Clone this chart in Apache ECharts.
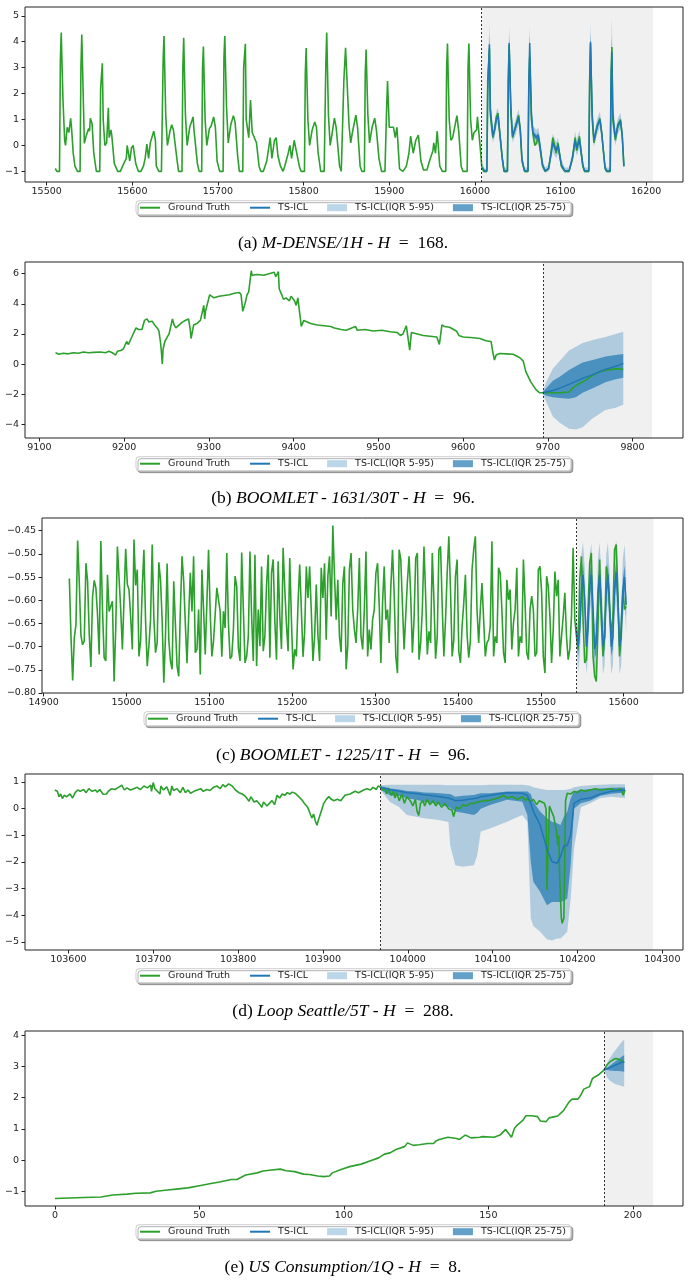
<!DOCTYPE html>
<html>
<head>
<meta charset="utf-8">
<title>TS-ICL forecasts</title>
<script src="https://cdn.jsdelivr.net/npm/echarts@6.0.0/dist/echarts.min.js"></script>
<style>
  html, body { margin: 0; padding: 0; background: #fff; }
  #chart { width: 690px; height: 1283px; }
</style>
</head>
<body>
<div id="chart"></div>
<script>
// forecast rows everywhere: [x, median, q05, q95, q25, q75]

// (a) M-DENSE/1H
const aTruth = [
  [15510,-0.89],[15512,-1.0],[15514,-0.97],[15515,-1.0],[15516,3.3],[15517,4.36],[15519,1.8],[15521,0.2],[15522,0.0],[15524,0.7],
  [15526,0.5],[15528,1.05],[15529,0.7],[15531,-0.3],[15533,-0.8],[15536,-1.0],[15539,-1.0],[15540,3.0],[15541,4.28],[15543,1.5],
  [15544,0.08],[15546,0.35],[15547,0.3],[15549,0.65],[15550,0.55],[15551,1.05],[15553,0.85],[15555,-0.3],[15558,-1.0],[15562,-1.0],
  [15563,2.2],[15565,3.17],[15566,1.0],[15568,0.0],[15570,0.1],[15572,1.45],[15573,0.3],[15575,0.6],[15576,0.4],[15579,-0.7],
  [15583,-1.0],[15586,-1.0],[15590,-0.7],[15593,-0.5],[15594,0.0],[15597,-0.6],[15599,-0.1],[15601,0.0],[15604,-0.7],[15607,-1.0],
  [15610,-1.0],[15613,-0.8],[15615,-0.5],[15617,0.05],[15619,-0.5],[15621,0.1],[15625,0.55],[15627,0.2],[15628,-0.8],[15631,-1.0],
  [15634,-1.0],[15636,3.3],[15637,4.22],[15639,1.2],[15641,0.0],[15644,0.55],[15646,0.8],[15648,0.6],[15652,-0.5],[15654,-1.0],
  [15658,-1.0],[15659,3.0],[15660,4.15],[15662,1.2],[15664,0.0],[15667,0.7],[15671,1.1],[15672,0.6],[15676,-0.7],[15678,-1.0],
  [15681,-1.0],[15682,3.0],[15683,3.82],[15685,1.0],[15687,0.0],[15690,0.65],[15692,0.75],[15695,1.1],[15697,0.7],[15699,-0.6],
  [15702,-1.0],[15706,-1.0],[15707,3.4],[15708,4.22],[15710,1.5],[15712,0.1],[15715,0.8],[15718,1.15],[15720,0.9],[15723,-0.4],
  [15725,-1.0],[15729,-1.0],[15730,3.0],[15732,3.92],[15733,1.0],[15736,0.3],[15738,1.75],[15740,0.5],[15742,0.45],[15745,0.1],
  [15748,-0.8],[15750,-1.0],[15753,-1.0],[15757,-0.6],[15761,0.3],[15763,-0.5],[15766,0.2],[15768,0.3],[15770,-0.4],[15773,-0.8],
  [15776,-1.0],[15778,-0.8],[15782,-0.3],[15784,0.0],[15786,-0.5],[15789,0.2],[15791,0.15],[15795,-0.8],[15797,-1.0],[15801,-1.0],
  [15802,2.8],[15803,3.76],[15805,1.0],[15807,0.0],[15810,0.6],[15813,0.9],[15815,0.7],[15817,-0.3],[15820,-1.0],[15824,-1.0],
  [15826,3.2],[15827,4.36],[15829,1.2],[15831,0.0],[15833,0.4],[15836,1.05],[15838,0.7],[15842,-0.8],[15844,-1.0],[15846,-1.0],
  [15847,2.5],[15849,3.77],[15851,3.7],[15853,0.8],[15855,0.1],[15857,0.5],[15861,1.17],[15863,0.7],[15866,-0.8],[15868,-1.0],
  [15871,-1.0],[15872,2.8],[15873,3.7],[15875,1.2],[15877,0.1],[15880,0.7],[15883,1.05],[15885,0.6],[15888,-0.5],[15891,-1.0],
  [15895,-1.0],[15897,1.5],[15898,2.48],[15900,0.7],[15902,0.75],[15905,0.7],[15907,0.3],[15909,0.7],[15912,-0.9],[15916,-1.0],
  [15920,-0.8],[15923,-0.3],[15925,0.36],[15928,-0.3],[15931,0.2],[15934,0.4],[15937,-0.6],[15940,-0.95],[15944,-0.95],[15947,-0.6],
  [15951,-0.2],[15952,0.1],[15954,-0.3],[15956,0.55],[15959,-0.8],[15962,-1.0],[15966,-1.0],[15967,3.0],[15968,3.93],[15970,1.0],
  [15972,0.2],[15974,0.3],[15977,0.8],[15979,1.15],[15981,0.6],[15984,-0.8],[15986,-1.0],[15991,-1.0],[15992,3.0],[15993,3.93],
  [15995,1.0],[15997,0.2],[15999,0.5],[16002,0.6],[16003,1.1],[16006,0.0],[16008,-0.8],[16010,-1.0],[16014,-1.0],[16015,2.5],
  [16017,3.74],[16018,1.2],[16021,0.3],[16023,0.6],[16025,1.1],[16027,1.25],[16029,0.5],[16032,-0.5],[16034,-1.0],[16038,-1.0],
  [16039,2.5],[16040,3.87],[16042,1.3],[16044,0.3],[16046,0.35],[16048,0.8],[16051,1.17],[16053,0.6],[16055,-0.6],[16058,-1.0],
  [16062,-1.0],[16063,2.5],[16064,3.42],[16066,1.0],[16068,0.4],[16070,0.0],[16072,0.1],[16074,0.35],[16076,-0.1],[16079,-0.8],
  [16082,-1.0],[16086,-0.9],[16088,-0.5],[16091,0.3],[16095,-0.3],[16097,0.1],[16101,-0.8],[16105,-1.0],[16110,-1.0],[16114,-0.5],
  [16117,0.3],[16119,-0.2],[16122,0.35],[16126,-0.8],[16128,-1.0],[16133,-1.0],[16134,2.5],[16135,3.93],[16137,1.0],[16139,0.1],
  [16143,0.8],[16146,1.04],[16148,0.5],[16152,-0.9],[16154,-1.0],[16158,-1.0],[16159,2.8],[16160,3.8],[16161,1.0],[16164,0.2],
  [16167,0.8],[16170,1.0],[16172,0.4],[16174,-0.8]
];
const aForecast = [
  [16009,-0.85,-0.95,-0.7,-0.9,-0.8],[16011,-0.98,-1.05,-0.9,-1.0,-0.95],[16014,-0.98,-1.05,-0.88,-1.0,-0.95],
  [16015,2.2,1.5,2.9,2.0,2.4],[16017,3.9,3.0,4.7,3.6,4.2],[16018,1.4,0.8,2.2,1.1,1.7],[16021,0.35,0.1,0.6,0.25,0.45],
  [16023,0.6,0.3,0.9,0.5,0.7],[16025,1.0,0.7,1.3,0.9,1.1],[16027,1.15,0.85,1.45,1.05,1.25],[16029,0.5,0.2,0.8,0.4,0.6],
  [16032,-0.5,-0.7,-0.3,-0.55,-0.45],[16034,-0.98,-1.05,-0.85,-1.0,-0.95],[16038,-0.98,-1.05,-0.85,-1.0,-0.95],
  [16039,2.4,1.6,3.2,2.1,2.7],[16040,3.95,3.0,4.6,3.6,4.2],[16042,1.4,0.8,2.1,1.1,1.7],[16044,0.35,0.1,0.6,0.25,0.45],
  [16048,0.75,0.45,1.05,0.65,0.85],[16051,1.1,0.8,1.4,1.0,1.2],[16053,0.6,0.3,0.9,0.5,0.7],[16055,-0.55,-0.75,-0.35,-0.6,-0.5],
  [16058,-0.98,-1.05,-0.85,-1.0,-0.95],[16062,-0.98,-1.05,-0.85,-1.0,-0.95],[16063,2.4,1.6,3.2,2.1,2.7],
  [16064,3.95,3.0,4.6,3.6,4.2],[16066,1.2,0.7,1.9,1.0,1.5],[16068,0.45,0.15,0.75,0.35,0.55],[16072,0.3,0.0,0.6,0.2,0.4],
  [16074,0.4,0.1,0.7,0.3,0.5],[16076,0.0,-0.3,0.3,-0.1,0.1],[16079,-0.75,-0.9,-0.55,-0.8,-0.7],[16082,-0.98,-1.05,-0.85,-1.0,-0.95],
  [16086,-0.9,-1.0,-0.75,-0.95,-0.85],[16091,0.1,-0.25,0.45,0.0,0.2],[16095,-0.2,-0.5,0.1,-0.3,-0.1],[16097,0.0,-0.3,0.3,-0.1,0.1],
  [16101,-0.75,-0.9,-0.55,-0.8,-0.7],[16105,-0.98,-1.05,-0.85,-1.0,-0.95],[16110,-0.98,-1.05,-0.85,-1.0,-0.95],
  [16114,-0.45,-0.65,-0.25,-0.5,-0.4],[16117,0.2,-0.15,0.55,0.1,0.3],[16119,-0.1,-0.4,0.2,-0.2,0.0],[16122,0.25,-0.1,0.6,0.15,0.35],
  [16126,-0.75,-0.9,-0.55,-0.8,-0.7],[16128,-0.98,-1.05,-0.85,-1.0,-0.95],[16133,-0.98,-1.05,-0.85,-1.0,-0.95],
  [16134,2.4,1.6,3.2,2.1,2.7],[16135,4.0,3.1,4.7,3.7,4.3],[16137,1.2,0.7,1.9,1.0,1.5],[16139,0.2,-0.05,0.45,0.1,0.3],
  [16143,0.75,0.45,1.05,0.65,0.85],[16146,1.0,0.7,1.3,0.9,1.1],[16148,0.5,0.2,0.8,0.4,0.6],[16152,-0.85,-1.0,-0.7,-0.9,-0.8],
  [16154,-0.98,-1.05,-0.85,-1.0,-0.95],[16158,-0.98,-1.05,-0.85,-1.0,-0.95],[16159,2.4,1.6,3.2,2.1,2.7],
  [16160,3.6,2.8,4.96,3.3,4.2],[16161,1.2,0.7,1.9,1.0,1.5],[16164,0.3,0.0,0.6,0.2,0.4],[16167,0.75,0.45,1.05,0.65,0.85],
  [16170,0.95,0.65,1.25,0.85,1.05],[16172,0.4,0.1,0.7,0.3,0.5],[16174,-0.8,-0.95,-0.6,-0.85,-0.75]
];
const aXTicks = [15500, 15600, 15700, 15800, 15900, 16000, 16100, 16200];
const aYTicks = [-1, 0, 1, 2, 3, 4, 5];

// (b) BOOMLET 1631/30T
const bTruth = [
  [9119,0.75],[9123,0.65],[9128,0.72],[9134,0.68],[9140,0.75],[9146,0.72],[9152,0.8],[9158,0.75],[9164,0.78],[9172,0.8],
  [9178,0.75],[9182,0.85],[9186,0.75],[9190,0.6],[9192,0.85],[9196,0.9],[9199,1.0],[9201,0.9],[9203,1.5],[9205,1.3],
  [9209,1.8],[9211,1.7],[9214,2.4],[9217,2.3],[9221,2.3],[9224,2.9],[9227,3.0],[9229,2.8],[9233,2.85],[9236,2.6],
  [9239,2.4],[9241,2.2],[9243,1.4],[9244,0.8],[9245,0.0],[9246,1.0],[9248,1.5],[9251,1.8],[9253,2.0],[9255,2.1],
  [9257,3.0],[9259,2.6],[9261,2.4],[9265,2.6],[9268,2.75],[9272,2.9],[9276,3.0],[9278,2.3],[9279,1.7],[9280,1.7],
  [9282,2.6],[9286,2.7],[9290,2.9],[9292,2.8],[9294,3.9],[9295,3.0],[9296,3.5],[9298,3.4],[9300,4.4],[9301,4.6],
  [9306,4.4],[9312,4.5],[9318,4.55],[9324,4.6],[9330,4.7],[9336,4.75],[9338,4.6],[9340,3.5],[9341,3.4],[9343,4.1],
  [9345,4.6],[9347,4.8],[9350,6.2],[9351,5.9],[9357,5.95],[9365,5.9],[9371,6.0],[9377,6.1],[9379,5.8],[9382,6.15],
  [9383,5.0],[9386,4.6],[9388,4.3],[9391,4.4],[9395,4.2],[9397,4.5],[9401,4.2],[9403,3.9],[9405,4.4],[9408,3.0],
  [9409,2.5],[9412,2.9],[9414,2.8],[9420,2.7],[9428,2.6],[9436,2.55],[9444,2.5],[9448,2.4],[9456,2.3],[9462,2.25],
  [9473,2.5],[9475,2.25],[9484,2.3],[9494,2.2],[9504,2.25],[9514,2.15],[9522,2.1],[9526,1.9],[9529,2.0],[9533,2.55],
  [9535,2.6],[9537,0.93],[9539,2.1],[9541,2.0],[9553,1.9],[9561,1.85],[9569,1.8],[9572,1.3],[9575,2.6],[9578,2.5],
  [9584,2.45],[9592,2.2],[9595,1.9],[9600,1.8],[9612,1.75],[9620,1.7],[9627,1.55],[9633,1.5],[9635,0.8],[9637,0.27],
  [9639,0.6],[9643,0.7],[9651,0.68],[9659,0.65],[9667,0.42],[9671,0.2],[9674,-0.5],[9680,-1.2],[9686,-1.7],[9690,-1.9],
  [9694,-1.9],[9706,-1.9],[9714,-1.9],[9725,-1.85],[9729,-1.6],[9737,-1.3],[9745,-1.05],[9753,-0.75],[9761,-0.5],[9769,-0.4],
  [9776,-0.35],[9784,-0.3],[9789,-0.36]
];
const bForecast = [
  [9694,-1.9,-2.0,-1.8,-1.95,-1.85],[9698,-1.85,-2.5,-1.2,-2.1,-1.6],[9706,-1.75,-3.5,-0.3,-2.2,-1.1],
  [9714,-1.6,-3.9,0.2,-2.25,-0.84],[9725,-1.35,-4.3,0.9,-2.3,-0.4],[9733,-1.15,-4.35,1.15,-2.2,-0.15],
  [9741,-0.95,-4.2,1.4,-1.9,0.1],[9753,-0.7,-3.6,1.6,-1.6,0.27],[9768,-0.35,-3.05,1.8,-1.2,0.5],
  [9780,-0.15,-2.9,2.0,-1.0,0.6],[9789,0.05,-2.7,2.15,-0.9,0.67]
];
const bXTicks = [9100, 9200, 9300, 9400, 9500, 9600, 9700, 9800];
const bYTicks = [-4, -2, 0, 2, 4, 6];

// (c) BOOMLET 1225/1T, sampled every 2 steps
const cTruthStart = 14931;
const cStep = 2;
const cTruth = [
  -0.553,-0.680,-0.773,-0.681,-0.652,-0.471,-0.561,-0.676,-0.696,-0.688,
  -0.520,-0.559,-0.672,-0.744,-0.593,-0.557,-0.573,-0.631,-0.717,-0.472,
  -0.620,-0.724,-0.731,-0.545,-0.624,-0.613,-0.602,-0.775,-0.660,-0.484,
  -0.552,-0.620,-0.706,-0.706,-0.489,-0.566,-0.577,-0.636,-0.706,-0.469,
  -0.568,-0.534,-0.721,-0.688,-0.573,-0.491,-0.645,-0.742,-0.699,-0.642,
  -0.480,-0.638,-0.713,-0.692,-0.518,-0.556,-0.642,-0.778,-0.678,-0.521,
  -0.685,-0.731,-0.749,-0.559,-0.652,-0.742,-0.764,-0.620,-0.505,-0.559,
  -0.652,-0.736,-0.635,-0.541,-0.624,-0.505,-0.713,-0.706,-0.620,-0.760,
  -0.534,-0.620,-0.717,-0.721,-0.491,-0.627,-0.721,-0.688,-0.688,-0.573,
  -0.576,-0.624,-0.722,-0.624,-0.660,-0.498,-0.649,-0.726,-0.721,-0.663,
  -0.548,-0.570,-0.703,-0.731,-0.497,-0.620,-0.735,-0.721,-0.678,-0.495,
  -0.635,-0.731,-0.502,-0.742,-0.620,-0.699,-0.527,-0.710,-0.678,-0.566,
  -0.502,-0.724,-0.541,-0.512,-0.645,-0.728,-0.516,-0.635,-0.705,-0.487,
  -0.576,-0.652,-0.710,-0.509,-0.642,-0.749,-0.706,-0.721,-0.606,-0.523,
  -0.620,-0.722,-0.667,-0.527,-0.595,-0.527,-0.624,-0.731,-0.678,-0.566,
  -0.674,-0.731,-0.530,-0.595,-0.520,-0.685,-0.548,-0.505,-0.635,-0.439,
  -0.548,-0.642,-0.556,-0.678,-0.712,-0.563,-0.527,-0.749,-0.699,-0.534,
  -0.498,-0.620,-0.663,-0.692,-0.620,-0.509,-0.678,-0.706,-0.620,-0.495,
  -0.721,-0.663,-0.706,-0.642,-0.620,-0.541,-0.520,-0.613,-0.735,-0.606,
  -0.527,-0.642,-0.620,-0.692,-0.570,-0.491,-0.584,-0.721,-0.757,-0.491,
  -0.512,-0.609,-0.706,-0.706,-0.559,-0.505,-0.591,-0.713,-0.642,-0.509,
  -0.498,-0.728,-0.692,-0.620,-0.484,-0.591,-0.717,-0.667,-0.692,-0.498,
  -0.599,-0.726,-0.678,-0.491,-0.484,-0.613,-0.721,-0.642,-0.541,-0.462,
  -0.577,-0.721,-0.685,-0.548,-0.512,-0.710,-0.735,-0.656,-0.606,-0.545,
  -0.674,-0.724,-0.688,-0.534,-0.491,-0.462,-0.620,-0.692,-0.620,-0.563,
  -0.563,-0.721,-0.692,-0.685,-0.656,-0.473,-0.721,-0.678,-0.692,-0.530,
  -0.541,-0.620,-0.713,-0.735,-0.556,-0.599,-0.577,-0.706,-0.649,-0.620,
  -0.530,-0.721,-0.678,-0.692,-0.512,-0.606,-0.713,-0.728,-0.620,-0.591,
  -0.620,-0.721,-0.713,-0.534,-0.527,-0.584,-0.721,-0.757,-0.548,-0.570,
  -0.635,-0.735,-0.663,-0.538,-0.591,-0.556,-0.721,-0.724,-0.635,-0.584,
  -0.678,-0.728,-0.706,-0.635,-0.487,-0.642,-0.678,-0.706,-0.556,-0.505,
  -0.642,-0.735,-0.728,-0.620,-0.520,-0.498,-0.721,-0.764,-0.775,-0.656,
  -0.512,-0.642,-0.721,-0.678,-0.527,-0.548,-0.620,-0.678,-0.635,-0.491,
  -0.480,-0.584,-0.721,-0.656,-0.577,-0.620,-0.613
];
const cForecastStart = 15543;
const cMedian = [-0.665,-0.70,-0.66,-0.58,-0.545,-0.60,-0.70,-0.66,-0.57,-0.545,-0.62,-0.705,-0.69,-0.58,-0.545,-0.61,-0.70,-0.68,-0.58,-0.545,-0.61,-0.70,-0.68,-0.575,-0.54,-0.60,-0.70,-0.68,-0.58,-0.55,-0.61];
const cQ05 = [-0.69,-0.755,-0.72,-0.64,-0.60,-0.67,-0.76,-0.72,-0.63,-0.60,-0.68,-0.765,-0.75,-0.64,-0.60,-0.67,-0.76,-0.74,-0.64,-0.60,-0.67,-0.76,-0.74,-0.63,-0.60,-0.66,-0.76,-0.74,-0.64,-0.61,-0.67];
const cQ95 = [-0.64,-0.66,-0.60,-0.50,-0.475,-0.53,-0.65,-0.60,-0.50,-0.478,-0.55,-0.655,-0.63,-0.51,-0.475,-0.54,-0.65,-0.62,-0.50,-0.475,-0.54,-0.65,-0.62,-0.50,-0.47,-0.53,-0.65,-0.62,-0.51,-0.48,-0.54];
const cQ25 = [-0.68,-0.72,-0.685,-0.605,-0.57,-0.625,-0.72,-0.685,-0.595,-0.57,-0.645,-0.725,-0.715,-0.605,-0.57,-0.635,-0.72,-0.705,-0.605,-0.57,-0.635,-0.72,-0.705,-0.60,-0.565,-0.625,-0.72,-0.705,-0.605,-0.575,-0.635];
const cQ75 = [-0.65,-0.68,-0.64,-0.555,-0.52,-0.575,-0.68,-0.635,-0.545,-0.52,-0.595,-0.685,-0.665,-0.555,-0.52,-0.585,-0.68,-0.655,-0.555,-0.52,-0.585,-0.68,-0.655,-0.55,-0.515,-0.575,-0.68,-0.655,-0.555,-0.525,-0.585];
const cXTicks = [14900, 15000, 15100, 15200, 15300, 15400, 15500, 15600];
const cYTicks = [-0.80, -0.75, -0.70, -0.65, -0.60, -0.55, -0.50, -0.45];

// (d) Loop Seattle/5T
const dTruth = [
  [103584,0.70],[103587,0.65],[103589,0.45],[103591,0.55],[103593,0.38],[103595,0.50],[103598,0.45],[103602,0.55],[103605,0.40],[103607,0.33],
  [103608,0.60],[103611,0.70],[103614,0.65],[103618,0.72],[103621,0.60],[103624,0.75],[103628,0.65],[103632,0.70],[103634,0.62],[103637,0.72],
  [103641,0.54],[103645,0.55],[103647,0.65],[103651,0.75],[103655,0.72],[103659,0.80],[103663,0.88],[103666,0.70],[103669,0.78],[103673,0.70],
  [103677,0.75],[103681,0.80],[103685,0.72],[103689,0.85],[103693,0.78],[103697,0.88],[103698,0.65],[103700,0.98],[103702,0.75],[103704,0.80],
  [103708,0.55],[103709,0.85],[103712,0.70],[103716,0.82],[103720,0.50],[103722,0.85],[103724,0.68],[103728,0.75],[103732,0.60],[103735,0.80],
  [103738,0.60],[103741,0.70],[103744,0.58],[103748,0.65],[103752,0.70],[103756,0.75],[103759,0.65],[103763,0.72],[103767,0.68],[103771,0.80],
  [103775,0.85],[103779,0.75],[103782,0.90],[103785,0.82],[103789,0.93],[103793,0.85],[103797,0.70],[103801,0.60],[103805,0.55],[103809,0.45],
  [103813,0.28],[103815,0.45],[103819,0.25],[103822,0.30],[103826,0.15],[103828,0.05],[103830,0.25],[103834,0.10],[103837,0.20],[103840,0.30],
  [103843,0.15],[103846,0.50],[103849,0.40],[103852,0.55],[103855,0.50],[103858,0.60],[103861,0.55],[103864,0.62],[103867,0.58],[103870,0.50],
  [103873,0.40],[103876,0.30],[103878,0.20],[103882,0.05],[103884,-0.10],[103885,-0.20],[103887,-0.35],[103889,-0.20],[103891,-0.45],[103893,-0.62],
  [103895,-0.40],[103897,-0.20],[103899,0.00],[103901,0.20],[103904,0.35],[103907,0.45],[103910,0.35],[103913,0.30],[103917,0.35],[103921,0.30],
  [103926,0.50],[103932,0.55],[103938,0.65],[103942,0.60],[103948,0.70],[103952,0.75],[103956,0.70],[103959,0.80],[103963,0.72],[103965,0.85],
  [103968,0.80],[103970,0.70],[103973,0.75],[103975,0.55],[103977,0.78],[103979,0.60],[103981,0.50],[103983,0.65],[103985,0.40],[103987,0.60],
  [103990,0.30],[103993,0.55],[103996,0.20],[103999,0.45],[104003,0.30],[104006,0.10],[104009,0.35],[104011,-0.10],[104013,-0.25],[104015,0.20],
  [104018,0.30],[104020,0.10],[104023,0.35],[104026,0.15],[104030,0.30],[104033,0.10],[104036,0.25],[104040,0.05],[104044,0.20],[104048,0.00],
  [104052,-0.05],[104054,-0.30],[104057,0.05],[104061,0.00],[104065,0.15],[104069,0.10],[104074,0.20],[104078,0.20],[104083,0.25],[104089,0.30],
  [104095,0.30],[104101,0.35],[104107,0.40],[104113,0.50],[104117,0.40],[104123,0.45],[104129,0.35],[104135,0.45],[104139,0.30],[104141,0.40],
  [104144,0.25],[104148,0.35],[104152,0.15],[104155,0.30],[104158,0.25],[104161,0.20],[104163,0.00],[104164,-3.05],[104166,-3.05],[104167,0.10],
  [104169,0.15],[104172,-0.30],[104175,-0.80],[104177,-1.40],[104178,-1.00],[104179,-2.50],[104181,-4.10],[104182,-4.30],[104184,-4.10],[104185,-2.00],
  [104186,0.30],[104188,0.58],[104192,0.55],[104196,0.65],[104200,0.60],[104204,0.70],[104209,0.65],[104215,0.70],[104221,0.75],[104227,0.70],
  [104233,0.72],[104239,0.75],[104245,0.68],[104251,0.75],[104254,0.50],[104256,0.70]
];
const dForecast = [
  [103968,0.80,0.70,0.88,0.70,0.85],[103979,0.72,0.25,0.90,0.50,0.76],[103990,0.65,0.05,0.90,0.48,0.72],
  [103999,0.60,-0.24,0.90,0.39,0.66],[104010,0.57,-0.30,0.90,0.33,0.64],[104019,0.52,-0.36,0.90,0.26,0.61],
  [104030,0.48,-0.40,0.90,0.20,0.60],[104038,0.45,-0.43,0.90,0.16,0.58],[104048,0.40,-0.50,0.88,0.05,0.55],
  [104050,0.38,-1.37,0.88,0.03,0.55],[104056,0.30,-2.12,0.88,-0.11,0.45],[104065,0.32,-2.18,0.88,-0.15,0.48],
  [104078,0.38,-2.12,0.88,-0.24,0.51],[104082,0.40,-1.74,0.88,-0.15,0.55],[104086,0.45,-0.86,0.88,0.00,0.58],
  [104097,0.50,-0.74,0.90,0.14,0.58],[104117,0.60,-0.49,0.90,0.33,0.64],[104135,0.58,-0.24,0.90,0.26,0.64],
  [104141,0.50,-0.49,0.88,-0.24,0.64],[104145,0.20,-4.12,0.85,-1.99,0.54],[104148,-0.10,-4.40,0.80,-2.74,0.26],
  [104156,-0.61,-4.62,0.75,-3.12,-0.11],[104164,-1.50,-4.90,0.70,-3.62,-0.36],[104170,-1.99,-4.94,0.70,-3.50,-0.49],
  [104176,-2.05,-4.87,0.70,-3.50,-0.55],[104180,-1.80,-4.87,0.70,-3.50,-0.61],[104184,-1.40,-4.75,0.70,-3.45,-0.30],
  [104188,-1.37,-4.62,0.72,-3.37,-0.11],[104192,-1.00,-3.37,0.75,-2.12,0.39],[104196,0.20,-1.49,0.80,0.01,0.64],
  [104204,0.35,0.05,0.85,0.20,0.70],[104215,0.40,0.20,0.88,0.30,0.74],[104227,0.55,0.40,0.90,0.48,0.76],
  [104240,0.65,0.45,0.92,0.56,0.78],[104256,0.70,0.40,0.92,0.61,0.79]
];
const dXTicks = [103600, 103700, 103800, 103900, 104000, 104100, 104200, 104300];
const dYTicks = [-5, -4, -3, -2, -1, 0, 1];

// (e) US Consumption/1Q
const eTruth = [
  [0,-1.23],[10,-1.20],[16,-1.18],[20,-1.12],[25,-1.09],[28,-1.06],[33,-1.05],[35,-1.00],[39,-0.96],[42,-0.93],
  [46,-0.89],[50,-0.82],[54,-0.75],[57,-0.70],[61,-0.62],[63,-0.62],[66,-0.48],[70,-0.41],[72,-0.35],[75,-0.32],
  [78,-0.29],[80,-0.34],[83,-0.37],[86,-0.45],[88,-0.46],[91,-0.51],[93,-0.53],[95,-0.51],[96,-0.41],[99,-0.30],
  [102,-0.21],[106,-0.13],[109,-0.03],[112,0.07],[114,0.19],[116,0.23],[118,0.34],[121,0.43],[122,0.55],[124,0.47],
  [126,0.49],[129,0.53],[131,0.53],[132,0.62],[133,0.66],[136,0.73],[139,0.69],[140,0.66],[142,0.80],[144,0.71],
  [147,0.73],[148,0.75],[152,0.73],[154,0.80],[156,0.98],[157,0.85],[158,0.73],[159,1.01],[160,1.12],[162,1.28],
  [163,1.42],[165,1.42],[167,1.39],[168,1.25],[170,1.23],[171,1.35],[173,1.39],[174,1.41],[176,1.58],[178,1.87],
  [179,1.95],[181,1.95],[182,2.08],[183,2.27],[185,2.35],[186,2.61],[188,2.72],[190,2.88],[191,3.04],[192,3.14],
  [193,3.20],[194,3.25],[195,3.23],[196,3.18],[197,3.11]
];
const eForecast = [
  [190,2.88,2.88,2.88,2.88,2.88],[191,2.92,2.65,3.10,2.88,2.95],[192,2.96,2.55,3.25,2.87,3.02],
  [193,3.00,2.48,3.40,2.86,3.09],[194,3.04,2.43,3.52,2.85,3.16],[195,3.08,2.40,3.64,2.85,3.23],
  [196,3.12,2.37,3.76,2.84,3.30],[197,3.15,2.35,3.86,2.83,3.36]
];
const eXTicks = [0, 50, 100, 150, 200];
const eYTicks = [-1, 0, 1, 2, 3, 4];

const cForecast = cMedian.map((m, i) => [cForecastStart + cStep * i, m, cQ05[i], cQ95[i], cQ25[i], cQ75[i]]);
const cTruthPairs = cTruth.map((v, i) => [cTruthStart + cStep * i, v]);

const panels = [
  { truth: aTruth, forecast: aForecast, split: 16008, shadeEnd: 16208, xRange: [15474.7, 16243], yRange: [-1.41, 5.34],
    xTicks: aXTicks, yTicks: aYTicks, yDigits: 0, caption: ['(a) ', 'M-DENSE/1H - H', '\u2002=\u2002168.'] },
  { truth: bTruth, forecast: bForecast, split: 9694, shadeEnd: 9823, xRange: [9083, 9859.5], yRange: [-4.91, 6.78],
    xTicks: bXTicks, yTicks: bYTicks, yDigits: 0, caption: ['(b) ', 'BOOMLET - 1631/30T - H', '\u2002=\u200296.'] },
  { truth: cTruthPairs, forecast: cForecast, split: 15543, shadeEnd: 15636, xRange: [14898, 15671.6], yRange: [-0.8, -0.4226],
    xTicks: cXTicks, yTicks: cYTicks, yDigits: 2, caption: ['(c) ', 'BOOMLET - 1225/1T - H', '\u2002=\u200296.'] },
  { truth: dTruth, forecast: dForecast, split: 103968, shadeEnd: 104289, xRange: [103548.9, 104324.4], yRange: [-5.3, 1.3],
    xTicks: dXTicks, yTicks: dYTicks, yDigits: 0, caption: ['(d) ', 'Loop Seattle/5T - H', '\u2002=\u2002288.'] },
  { truth: eTruth, forecast: eForecast, split: 190, shadeEnd: 207, xRange: [-10.35, 217.35], yRange: [-1.47, 4.13],
    xTicks: eXTicks, yTicks: eYTicks, yDigits: 0, caption: ['(e) ', 'US Consumption/1Q - H', '\u2002=\u20028.'] }
];

// page placement of each subplot
const frames = [
  { left: 25, top: 7, width: 658, height: 175, legendLeft: 136, captionY: 243 },
  { left: 25, top: 262, width: 658, height: 176, legendLeft: 136, captionY: 498 },
  { left: 42, top: 518, width: 641, height: 175, legendLeft: 144, captionY: 755 },
  { left: 25, top: 774, width: 658, height: 176, legendLeft: 136, captionY: 1011 },
  { left: 25, top: 1031, width: 658, height: 175, legendLeft: 136, captionY: 1267 }
];

const GREEN = '#2ca02c';
const BLUE = '#1f77b4';
const WIDE = 'rgba(31,119,180,0.3)';
const MID = 'rgba(31,119,180,0.7)';
const TICK_FONT = { fontFamily: 'DejaVu Sans', fontSize: 9.5, color: '#222' };

const minus = v => (v < 0 ? '\u2212' : '') + Math.abs(v);
const fmt = d => v => (v < -1e-9 ? '\u2212' : '') + Math.abs(v).toFixed(d);

function band(name, rows, lo, hi, color, k) {
  const pts = rows.map(r => [r[0], r[lo], r[hi]]);
  return {
    name, type: 'custom', xAxisIndex: k, yAxisIndex: k, z: 2, silent: true,
    itemStyle: { color },
    encode: { x: 0, y: [1, 2] },
    data: pts,
    renderItem(params, api) {
      if (params.dataIndex !== 0) return null;
      const upper = pts.map(p => api.coord([p[0], p[2]]));
      const lower = pts.map(p => api.coord([p[0], p[1]])).reverse();
      return { type: 'polygon', shape: { points: upper.concat(lower) }, style: { fill: color } };
    }
  };
}

const grid = [], xAxis = [], yAxis = [], series = [], legend = [], graphic = [];

panels.forEach((p, k) => {
  const f = frames[k];
  grid.push({ left: f.left, top: f.top, width: f.width, height: f.height, show: true, z: 10,
    backgroundColor: 'transparent', borderColor: '#222', borderWidth: 1 });

  xAxis.push({
    type: 'value', gridIndex: k, min: p.xRange[0], max: p.xRange[1],
    axisLine: { show: false, onZero: false },
    axisTick: { show: true, length: 3.5, customValues: p.xTicks, lineStyle: { color: '#222', width: 1 } },
    axisLabel: Object.assign({ customValues: p.xTicks, margin: 5, formatter: minus }, TICK_FONT),
    splitLine: { show: false }
  });
  yAxis.push({
    type: 'value', gridIndex: k, min: p.yRange[0], max: p.yRange[1],
    axisLine: { show: false, onZero: false },
    axisTick: { show: true, length: 3.5, customValues: p.yTicks, lineStyle: { color: '#222', width: 1 } },
    axisLabel: Object.assign({ customValues: p.yTicks, margin: 6, formatter: fmt(p.yDigits) }, TICK_FONT),
    splitLine: { show: false }
  });

  series.push({
    name: 'Ground Truth', type: 'line', xAxisIndex: k, yAxisIndex: k, z: 3,
    data: p.truth, symbol: 'none',
    lineStyle: { color: GREEN, width: 1.6 }, itemStyle: { color: GREEN },
    markArea: { silent: true, itemStyle: { color: '#f0f0f0' },
      data: [[{ xAxis: p.split }, { xAxis: p.shadeEnd }]] },
    markLine: { silent: true, symbol: ['none', 'none'], label: { show: false },
      lineStyle: { color: '#333', width: 1, type: [2, 2] },
      data: [{ xAxis: p.split }] }
  });
  series.push(band('TS-ICL(IQR 5-95)', p.forecast, 2, 3, WIDE, k));
  series.push(band('TS-ICL(IQR 25-75)', p.forecast, 4, 5, MID, k));
  series.push({
    name: 'TS-ICL', type: 'line', xAxisIndex: k, yAxisIndex: k, z: 4,
    data: p.forecast.map(r => [r[0], r[1]]), symbol: 'none',
    lineStyle: { color: BLUE, width: 1.5 }, itemStyle: { color: BLUE }
  });

  legend.push({
    left: f.legendLeft, top: f.top + f.height + 18.7,
    orient: 'horizontal', selectedMode: false,
    formatter: ' {name}',
    data: [
      { name: 'Ground Truth', itemStyle: { opacity: 0 } },
      { name: 'TS-ICL', itemStyle: { opacity: 0 } },
      { name: 'TS-ICL(IQR 5-95)', icon: 'rect', itemStyle: { color: WIDE, borderWidth: 0 } },
      { name: 'TS-ICL(IQR 25-75)', icon: 'rect', itemStyle: { color: MID, borderWidth: 0 } }
    ],
    itemWidth: 20, itemHeight: 7, itemGap: 19,
    padding: [2, 5, 2, 3],
    backgroundColor: '#fff', borderColor: '#cfcfcf', borderWidth: 1, borderRadius: 3,
    shadowColor: 'rgba(0,0,0,0.3)', shadowBlur: 0, shadowOffsetX: 2, shadowOffsetY: 2,
    textStyle: TICK_FONT
  });

  graphic.push({
    type: 'text', x: 343, y: f.captionY, silent: true,
    style: {
      text: '{n|' + p.caption[0] + '}{i|' + p.caption[1] + '}{n|' + p.caption[2] + '}',
      align: 'center', verticalAlign: 'middle',
      rich: {
        n: { fontFamily: 'Liberation Serif', fontSize: 17.5, fill: '#000' },
        i: { fontFamily: 'Liberation Serif', fontSize: 17.5, fontStyle: 'italic', fill: '#000' }
      }
    }
  });
});

const chart = echarts.init(document.getElementById('chart'), null, { renderer: 'canvas' });
chart.setOption({
  animation: false,
  backgroundColor: '#fff',
  grid, xAxis, yAxis, series, legend, graphic
});
</script>
</body>
</html>
